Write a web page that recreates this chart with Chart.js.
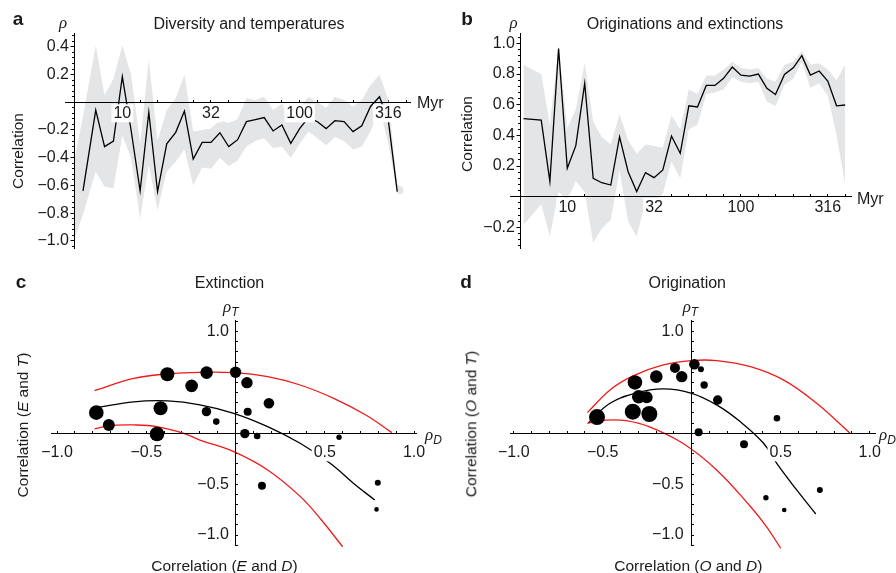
<!DOCTYPE html>
<html>
<head>
<meta charset="utf-8">
<script src="https://cdn.jsdelivr.net/npm/chart.js@4.4.1/dist/chart.umd.min.js"></script>
<style>
  html, body { margin: 0; padding: 0; background: #fff; overflow: hidden; }
  #fig { position: relative; width: 896px; height: 573px; overflow: hidden;
         font-family: "Liberation Sans", Arial, sans-serif; color: #1a1a1a; }
  canvas { position: absolute; left: 0; top: 0; }
  .t { position: absolute; white-space: nowrap; line-height: 1; }
  .b { font-weight: bold; }
  .rho { font-family: "Liberation Serif", "DejaVu Serif", serif; font-style: italic; }
  .t sub { font-family: "Liberation Sans", Arial, sans-serif; font-style: italic; font-size: 12px; vertical-align: -4px; line-height: 1; }
  .it { font-style: italic; }
</style>
</head>
<body>
<div id="fig">
  <canvas id="chartA" width="960" height="600"></canvas>
  <canvas id="chartB" width="960" height="600"></canvas>
  <canvas id="chartC" width="960" height="600"></canvas>
  <canvas id="chartD" width="960" height="600"></canvas>
</div>
<script>
'use strict';

// panel a: diversity vs temperature, correlation per time scale (Myr)
const ageA = [6, 7.08, 7.94, 8.91, 10, 11.2, 12.6, 14.1, 15.8, 17.8, 20, 22.4, 25.1, 28.2, 31.6, 35.5, 39.8, 44.7,
  50.1, 56.2, 63.1, 70.8, 79.4, 89.1, 100, 112, 126, 141, 158, 178, 200, 224, 251, 282, 316, 355];
const rhoA = [-0.64, -0.056, -0.32, -0.28, 0.185, -0.2, -0.64, -0.072, -0.645, -0.30, -0.217, -0.063, -0.41, -0.29,
  -0.29, -0.22, -0.32, -0.27, -0.14, -0.125, -0.11, -0.207, -0.164, -0.296, -0.19, -0.11, -0.14, -0.19, -0.133,
  -0.14, -0.212, -0.169, -0.03, 0.04, -0.128, -0.645];
const bandAgeA = [5.36, 6, 7.08, 7.94, 8.91, 10, 11.2, 12.6, 14.1, 15.8, 17.8, 20, 22.4, 25.1, 28.2, 31.6, 35.5, 39.8,
  44.7, 50.1, 56.2, 63.1, 70.8, 79.4, 89.1, 100, 112, 126, 141, 158, 178, 200, 224, 251, 282, 316, 355, 385];
const highA = [-0.42, -0.1, 0.41, 0.05, 0.17, 0.41, 0.2, -0.3, 0.31, -0.28, -0.055, 0.03, 0.2, -0.21, -0.2, -0.19,
  -0.13, -0.15, -0.12, 0.03, 0.017, 0.04, -0.055, -0.01, -0.14, -0.04, 0.04, 0.0, -0.04, 0.04, 0.017, -0.03, 0.017,
  0.125, 0.2, 0.017, -0.59, -0.62];
const lowA = [-0.99, -0.81, -0.50, -0.61, -0.62, -0.24, -0.40, -0.84, -0.45, -0.78, -0.50, -0.43, -0.34, -0.60,
  -0.47, -0.48, -0.40, -0.46, -0.42, -0.32, -0.28, -0.26, -0.33, -0.32, -0.40, -0.30, -0.21, -0.26, -0.31, -0.25,
  -0.28, -0.34, -0.32, -0.21, -0.04, -0.30, -0.66, -0.66];

// panel b: originations vs extinctions
const ageB = [5.6, 7.08, 7.94, 8.91, 10, 11.2, 12.6, 14.1, 15.8, 17.8, 20, 22.4, 25.1, 28.2, 31.6, 35.5, 39.8, 44.7,
  50.1, 56.2, 63.1, 70.8, 79.4, 89.1, 100, 112, 126, 141, 158, 178, 200, 224, 251, 282, 316, 355, 398];
const rhoB = [0.509, 0.50, 0.10, 0.967, 0.185, 0.333, 0.739, 0.12, 0.091, 0.076, 0.39, 0.163, 0.033, 0.157, 0.124,
  0.174, 0.396, 0.283, 0.593, 0.585, 0.726, 0.726, 0.772, 0.846, 0.793, 0.787, 0.80, 0.707, 0.667, 0.798, 0.841,
  0.92, 0.793, 0.82, 0.754, 0.593, 0.598];
const highB = [0.86, 0.80, 0.47, 0.99, 0.45, 0.57, 0.87, 0.49, 0.39, 0.34, 0.54, 0.37, 0.28, 0.34, 0.33, 0.32, 0.53,
  0.44, 0.70, 0.67, 0.79, 0.79, 0.83, 0.88, 0.84, 0.83, 0.84, 0.77, 0.75, 0.86, 0.88, 0.95, 0.86, 0.87, 0.83, 0.76, 0.86];
const lowB = [-0.185, -0.05, -0.26, 0.03, -0.02, 0.10, 0.03, -0.30, -0.21, -0.15, 0.17, -0.16, -0.26, -0.03, -0.05,
  0.02, 0.23, 0.12, 0.44, 0.47, 0.67, 0.68, 0.70, 0.78, 0.75, 0.74, 0.75, 0.62, 0.59, 0.73, 0.77, 0.88, 0.71, 0.74,
  0.66, 0.40, 0.08];

// time axis ticks (log spaced) and their labels
const xTickMyr = [6.31, 7.94, 10, 12.6, 15.8, 20, 25.1, 31.6, 39.8, 50.1, 63.1, 79.4, 100, 126, 158, 200, 251, 316, 398];
const xTickText = ['', '', '10', '', '', '', '', '32', '', '', '', '', '100', '', '', '', '', '316', ''];
const yTicksA = [0.4, 0.2, -0.2, -0.4, -0.6, -0.8, -1.0];
const yTextA = ['0.4', '0.2', '\u22120.2', '\u22120.4', '\u22120.6', '\u22120.8', '\u22121.0'];
const yTicksB = [1.0, 0.8, 0.6, 0.4, 0.2, -0.2];
const yTextB = ['1.0', '0.8', '0.6', '0.4', '0.2', '\u22120.2'];

// panel c: extinction, correlation with diversity (x) and temperature (y), dot size
const xC = [-0.78, -0.71, -0.44, -0.42, -0.382, -0.246, -0.162, -0.163, -0.108, 0.0, 0.064, 0.068, 0.187, 0.052,
  0.121, 0.148, 0.58, 0.797, 0.79];
const yC = [0.203, 0.082, -0.007, 0.246, 0.58, 0.466, 0.597, 0.213, 0.115, 0.6, 0.498, 0.213, 0.295, -0.003,
  -0.026, -0.515, -0.039, -0.485, -0.748];
const sizeC = [7.3, 6, 7.3, 7, 7, 6.3, 6.3, 4.7, 3.3, 5.7, 5.7, 4, 5.3, 4.7, 3.3, 4, 2.7, 3, 2.3];
const fitXC = [-0.77, -0.57, -0.38, -0.2, -0.01, 0.18, 0.362, 0.53, 0.66, 0.78];
const fitYC = [0.256, 0.31, 0.318, 0.28, 0.197, 0.066, -0.098, -0.295, -0.49, -0.656];
const upXC = [-0.79, -0.57, -0.38, -0.2, -0.01, 0.18, 0.362, 0.55, 0.73, 0.876];
const upYC = [0.42, 0.54, 0.584, 0.6, 0.597, 0.557, 0.475, 0.344, 0.18, 0.007];
const loXC = [-0.79, -0.71, -0.57, -0.44, -0.29, -0.2, -0.01, 0.18, 0.362, 0.48, 0.6];
const loYC = [0.043, 0.075, 0.082, 0.066, 0.0, -0.066, -0.18, -0.36, -0.62, -0.85, -1.115];

// panel d: origination
const xD = [-0.532, -0.319, -0.298, -0.253, -0.331, -0.238, -0.199, -0.094, -0.056, 0.015, 0.052, 0.07, 0.146,
  0.039, 0.294, 0.479, 0.417, 0.52, 0.72];
const yD = [0.16, 0.50, 0.36, 0.354, 0.213, 0.19, 0.557, 0.643, 0.557, 0.679, 0.63, 0.475, 0.328, 0.01, -0.108,
  0.148, -0.633, -0.754, -0.557];
const sizeD = [8, 7.3, 6.7, 6, 8, 8, 6.3, 5, 5.7, 5.3, 3, 3.7, 4.7, 4, 4, 3.3, 2.7, 2.3, 3];
const fitXD = [-0.58, -0.459, -0.32, -0.16, 0.0, 0.14, 0.272, 0.404, 0.478, 0.59, 0.697];
const fitYD = [0.105, 0.295, 0.393, 0.436, 0.393, 0.279, 0.115, -0.098, -0.295, -0.557, -0.793];
const upXD = [-0.586, -0.459, -0.33, -0.16, 0.0, 0.14, 0.33, 0.515, 0.702, 0.89];
const upYD = [0.203, 0.426, 0.564, 0.672, 0.715, 0.715, 0.656, 0.525, 0.295, 0.0];
const loXD = [-0.586, -0.48, -0.37, -0.24, -0.05, 0.14, 0.33, 0.42, 0.5];
const loYD = [0.098, 0.13, 0.125, 0.066, -0.098, -0.36, -0.72, -0.918, -1.13];

// correlation axis ticks for c and d
const corrTickVals = [-1, -0.5, 0.5, 1];
const corrTickText = ['\u22121.0', '\u22120.5', '0.5', '1.0'];
const corrYTickVals = [1, -0.5, -1];
const corrYTickText = ['1.0', '\u22120.5', '\u22121.0'];

Chart.defaults.font.family = '"Liberation Sans", Arial, sans-serif';
Chart.defaults.font.size = 16;
Chart.defaults.color = '#1a1a1a';
Chart.defaults.animation = false;
Chart.defaults.plugins.legend.display = false;
Chart.defaults.plugins.tooltip.enabled = false;

const BAND = '#e4e5e7';
const RED = '#f01a1a';

function pts(xs, ys) {
  return xs.map((x, i) => ({x: x, y: ys[i]}));
}

function labelAt(v, vals, texts) {
  for (let i = 0; i < vals.length; i++) {
    if (Math.abs(v - vals[i]) < 1e-6) return texts[i];
  }
  return '';
}

// labels on a centred y axis sit flush against the line, a trailing space gives the gap
function seriesChart(id, cfg) {
  return new Chart(document.getElementById(id), {
    type: 'line',
    data: {
      datasets: [
        {data: pts(cfg.age, cfg.rho), borderColor: '#000', borderWidth: 1.3, pointRadius: 0, tension: 0},
        {data: pts(cfg.bandAge, cfg.low), borderWidth: 0, pointRadius: 0, fill: false},
        {data: pts(cfg.bandAge, cfg.high), borderWidth: 0, pointRadius: 0, fill: '-1', backgroundColor: BAND}
      ]
    },
    options: {
      responsive: false,
      layout: {padding: cfg.pad},
      scales: {
        x: {
          type: 'logarithmic', min: cfg.xMin, max: cfg.xMax, bounds: 'data',
          position: {y: 0},
          border: {color: '#000', width: 1, z: 1},
          grid: {drawOnChartArea: false, tickLength: -3, tickColor: '#000', tickWidth: 1},
          afterBuildTicks: s => { s.ticks = xTickMyr.map(v => ({value: v})); },
          ticks: {
            z: 1, autoSkip: false, maxRotation: 0, minRotation: 0, padding: cfg.xPad,
            font: {size: 16, lineHeight: 1},
            callback: (v, i) => xTickText[i],
            showLabelBackdrop: c => !!(c.tick && c.tick.label),
            backdropColor: '#fff', backdropPadding: {top: 1, bottom: 1, left: 2, right: 2}
          }
        },
        y: {
          type: 'linear', min: cfg.yMin, max: cfg.yMax, bounds: 'data',
          position: {x: 5.36},
          border: {color: '#000', width: 1, z: 1},
          grid: {drawOnChartArea: false, tickLength: 3.5, tickColor: '#000'},
          afterBuildTicks: s => { s.ticks = cfg.yTicks.map(v => ({value: v})); },
          ticks: {autoSkip: false, font: {size: 16, lineHeight: 1}, callback: (v, i) => cfg.yText[i] + cfg.yGap}
        },
        yMinor: {
          type: 'linear', axis: 'y', min: cfg.yMin, max: cfg.yMax, bounds: 'data',
          position: {x: 5.36},
          border: {display: false},
          grid: {drawOnChartArea: false, tickLength: 2, tickColor: '#000'},
          afterBuildTicks: s => {
            const t = [];
            for (let k = Math.ceil(cfg.yMin / 0.04); k * 0.04 <= cfg.yMax; k++) t.push({value: k * 0.04});
            s.ticks = t;
          },
          ticks: {display: false, autoSkip: false}
        }
      }
    }
  });
}

function corrChart(id, cfg) {
  return new Chart(document.getElementById(id), {
    type: 'bubble',
    data: {
      datasets: [
        {type: 'bubble', data: cfg.x.map((x, i) => ({x: x, y: cfg.y[i], r: cfg.size[i]})),
          backgroundColor: '#000', borderWidth: 0},
        {type: 'line', data: pts(cfg.fitX, cfg.fitY), borderColor: '#000', borderWidth: 1.3, pointRadius: 0, tension: 0.4},
        {type: 'line', data: pts(cfg.upX, cfg.upY), borderColor: RED, borderWidth: 1.3, pointRadius: 0, tension: 0.4},
        {type: 'line', data: pts(cfg.loX, cfg.loY), borderColor: RED, borderWidth: 1.3, pointRadius: 0, tension: 0.4, clip: false}
      ]
    },
    options: {
      responsive: false,
      layout: {padding: cfg.pad},
      scales: {
        x: {
          type: 'linear', min: cfg.xMin, max: cfg.xMax, bounds: 'data',
          position: {y: 0},
          border: {color: '#000', width: 1, z: 1},
          grid: {drawOnChartArea: false, tickLength: -3, tickColor: '#000'},
          afterBuildTicks: s => {
            const t = [];
            for (let k = -10; k <= 10; k++) t.push({value: k / 10});
            s.ticks = t;
          },
          ticks: {
            z: 1, autoSkip: false, maxRotation: 0, minRotation: 0, padding: 14,
            font: {size: 16, lineHeight: 1},
            callback: v => labelAt(v, corrTickVals, corrTickText),
            showLabelBackdrop: c => !!(c.tick && c.tick.label),
            backdropColor: '#fff', backdropPadding: {top: 1, bottom: 1, left: 2, right: 2}
          }
        },
        y: {
          type: 'linear', min: -1.098, max: 1.114, bounds: 'data',
          position: {x: 0},
          border: {color: '#000', width: 1, z: 1},
          grid: {drawOnChartArea: false, tickLength: -3, tickColor: '#000'},
          afterBuildTicks: s => {
            const t = [];
            for (let k = -11; k <= 11; k++) t.push({value: k / 10});
            s.ticks = t;
          },
          ticks: {autoSkip: false, font: {size: 16, lineHeight: 1},
            callback: v => {
              const s = labelAt(v, corrYTickVals, corrYTickText);
              return s ? s + cfg.yGap : '';
            }}
        }
      }
    }
  });
}

seriesChart('chartA', {
  age: ageA, rho: rhoA, bandAge: bandAgeA, low: lowA, high: highA,
  xMin: 4.75, xMax: 419, yMin: -1.054, yMax: 0.498, yTicks: yTicksA, yText: yTextA, xPad: 6, yGap: '\u2004',
  pad: {left: 65, top: 33.3, right: 550, bottom: 351.7}
});
seriesChart('chartB', {
  age: ageB, rho: rhoB, bandAge: ageB, low: lowB, high: highB,
  xMin: 4.68, xMax: 434, yMin: -0.337, yMax: 1.066, yTicks: yTicksB, yText: yTextB, xPad: 5.5, yGap: '\u2004',
  pad: {left: 510, top: 33.3, right: 108.3, bottom: 351.7}
});
corrChart('chartC', {
  x: xC, y: yC, size: sizeC, fitX: fitXC, fitY: fitYC, upX: upXC, upY: upYC, loX: loXC, loY: loYC,
  xMin: -1.03, xMax: 1.015, yGap: '\u2005\u2006', pad: {left: 51.7, top: 320, right: 543.3, bottom: 55}
});
corrChart('chartD', {
  x: xD, y: yD, size: sizeD, fitX: fitXD, fitY: fitYD, upX: upXD, upY: upYD, loX: loXD, loY: loYD,
  xMin: -1.021, xMax: 1.03, yGap: '\u2002', pad: {left: 510, top: 320, right: 85, bottom: 55}
});

// text around the plots
const fig = document.getElementById('fig');
function addText(html, x, base, size, cls, center) {
  const d = document.createElement('div');
  d.className = 't ' + (cls || '');
  d.innerHTML = html;
  d.style.fontSize = size + 'px';
  d.style.left = x + 'px';
  d.style.top = (base - 0.85 * size) + 'px';
  if (center) d.style.transform = 'translateX(-50%)';
  fig.appendChild(d);
}
function addRotated(html, cx, cy, size) {
  const d = document.createElement('div');
  d.className = 't';
  d.innerHTML = html;
  d.style.fontSize = size + 'px';
  d.style.left = cx + 'px';
  d.style.top = cy + 'px';
  d.style.transform = 'translate(-50%,-50%) rotate(-90deg)';
  fig.appendChild(d);
}

addText('a', 18, 25, 19, 'b', true);
addText('b', 467, 25, 19, 'b', true);
addText('c', 21, 288.3, 19, 'b', true);
addText('d', 466, 288.3, 19, 'b', true);

addText('\u03c1', 63, 28.5, 17, 'rho', true);
addText('\u03c1', 513.5, 28.5, 17, 'rho', true);
addText('Diversity and temperatures', 249, 29.3, 16, '', true);
addText('Originations and extinctions', 685, 29.3, 16, '', true);
addText('Myr', 417, 108.3, 16, '', false);
addText('Myr', 857, 205, 16, '', false);
addRotated('Correlation', 17.8, 151, 15.5);
addRotated('Correlation', 466.7, 134, 15.5);

addText('Extinction', 229.5, 288.3, 16, '', true);
addText('Origination', 687.3, 288.3, 16, '', true);
addText('<span class="rho">\u03c1</span><sub>T</sub>', 223, 312, 17, '', false);
addText('<span class="rho">\u03c1</span><sub>T</sub>', 682.7, 312, 17, '', false);
addText('<span class="rho">\u03c1</span><sub>D</sub>', 425, 440, 17, '', false);
addText('<span class="rho">\u03c1</span><sub>D</sub>', 879, 440, 17, '', false);
addRotated('Correlation (<span class="it">E</span> and <span class="it">T</span>)', 22.5, 425, 15.5);
addRotated('Correlation (<span class="it">O</span> and <span class="it">T</span>)', 470.8, 424, 15.5);
addText('Correlation (<span class="it">E</span> and <span class="it">D</span>)', 224.5, 571, 15.5, '', true);
addText('Correlation (<span class="it">O</span> and <span class="it">D</span>)', 688.3, 571, 15.5, '', true);
</script>
</body>
</html>
